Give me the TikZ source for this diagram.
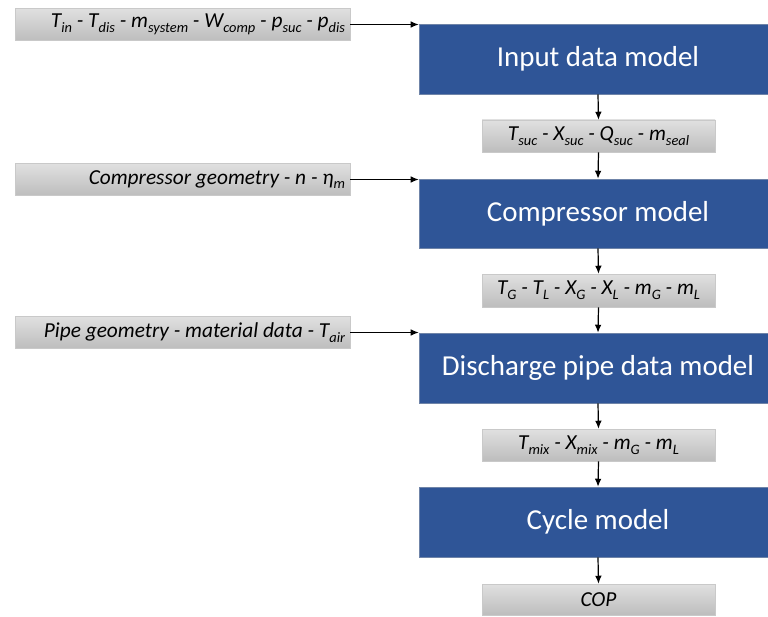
\documentclass[tikz,border=0pt]{standalone}
\usepackage{fontspec}
\setmainfont{Carlito}
\usetikzlibrary{arrows.meta}
\definecolor{modelblue}{HTML}{2F5597}
\definecolor{modeledge}{HTML}{6F84A8}
\definecolor{datatop}{HTML}{E0E0E0}
\definecolor{databot}{HTML}{BDBDBD}
\definecolor{dataedge}{HTML}{C9C9C9}
% subscripts a little larger than the default \textsubscript
\newcommand{\sub}[1]{\raisebox{-0.22em}{\fontsize{10.8}{12}\selectfont #1}}
\begin{document}
\begin{tikzpicture}[x=0.75pt,y=-0.75pt,
  model/.style={fill=modelblue,draw=modeledge,line width=0.4pt,text=white,
    minimum width={358*0.75pt},minimum height={70*0.75pt},inner sep=0pt,
    font=\fontsize{21.7}{26}\selectfont},
  data/.style={top color=datatop,bottom color=databot,draw=dataedge,line width=0.4pt,
    minimum width={233*0.75pt},minimum height={32*0.75pt},inner sep=0pt,
    font=\itshape\fontsize{16}{19}\selectfont},
  given/.style={data,minimum width={335*0.75pt},text width={325*0.75pt},
    inner xsep={5*0.75pt},align=flush right},
  arr/.style={-{Latex[length=6pt,width=5pt]},line width=0.9pt}]
\clip (0,0) rectangle (768,617);

% processing steps
\node[model] (b1) at (598,59)    {Input data model};
\node[model,minimum height={69*0.75pt}] (b2) at (598,213.5) {Compressor model};
\node[model] (b3) at (598,368)   {Discharge pipe data model};
\node[model] (b4) at (598,522)   {Cycle model};

% external inputs
\node[given] (g1) at (182.5,24.5)
  {T\sub{in} - T\sub{dis} - m\sub{system} - W\sub{comp} - p\sub{suc} - p\sub{dis}};
\node[given] (g3) at (182.5,179.5) {Compressor geometry - n - η\sub{m}};
\node[given] (g5) at (182.5,332.5) {Pipe geometry - material data - T\sub{air}};

% intermediate results
\node[data] (g2) at (598.5,136)   {T\sub{suc} - X\sub{suc} - Q\sub{suc} - m\sub{seal}};
\node[data,minimum height={33*0.75pt}] (g4) at (598.5,290.5)
  {T\sub{G} - T\sub{L} - X\sub{G} - X\sub{L} - m\sub{G} - m\sub{L}};
\node[data] (g6) at (598.5,445)   {T\sub{mix} - X\sub{mix} - m\sub{G} - m\sub{L}};
\node[data,minimum height={31*0.75pt}] (g7) at (598.5,599.5) {COP};

% inputs into the models
\draw[arr] (g1.east) -- (g1.east -| b1.west);
\draw[arr] (g3.east) -- (g3.east -| b2.west);
\draw[arr] (g5.east) -- (g5.east -| b3.west);

% chain of models
\draw[arr] (b1.south) -- (g2.north);
\draw[arr] (g2.south) -- (b2.north);
\draw[arr] (b2.south) -- (g4.north);
\draw[arr] (g4.south) -- (b3.north);
\draw[arr] (b3.south) -- (g6.north);
\draw[arr] (g6.south) -- (b4.north);
\draw[arr] (b4.south) -- (g7.north);
\end{tikzpicture}
\end{document}
